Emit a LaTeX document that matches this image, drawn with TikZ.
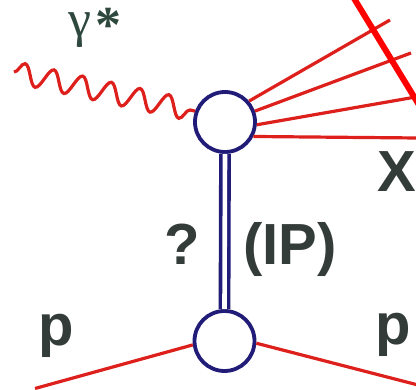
\documentclass[tikz,border=0pt]{standalone}
\usepackage{fontspec}
\setmainfont{Liberation Sans}
\newfontfamily\gfont{Liberation Serif}
\usetikzlibrary{decorations.pathmorphing}
\definecolor{fred}{RGB}{222,32,28}
\definecolor{navy}{RGB}{32,28,120}
\definecolor{inkc}{RGB}{52,60,58}
\definecolor{gink}{RGB}{46,72,62}
\begin{document}
\begin{tikzpicture}[x=1pt,y=-1pt,
  vertex/.style={circle,draw=navy,line width=3.8pt,minimum size=60pt,inner sep=0pt,fill=white},
  fline/.style={draw=fred,line width=3.2pt},
  lab/.style={text=inkc,font=\bfseries\fontsize{58}{58}\selectfont,inner sep=0pt}]
\fill[white] (0,0) rectangle (416,390);
\useasboundingbox (0,0) rectangle (416,390);
\clip (0,0) rectangle (416,390);
% vertices
\node[vertex] (top) at (225,122) {};
\node[vertex] (bot) at (224.5,341) {};
% exchanged object
\draw[navy,line width=3.6pt,double=white,double distance=4.6pt] (top.south) -- (bot.north);
% photon
\coordinate (g0) at (14,72);
\draw[fline,decorate,decoration={snake,segment length=29.4pt,amplitude=10.5pt}] (g0) -- (top.160);
% final state X
\coordinate (e1) at (390,20);
\coordinate (e2) at (411,53);
\coordinate (e3) at (418,96.6);
\coordinate (e4) at (418,138);
\draw[fline] (top.41) -- (e1);
\draw[fline] (top.20.6) -- (e2);
\draw[fline] (top.-5.4) -- (e3);
\draw[fline] (top.-27) -- (e4);
% protons
\coordinate (pin) at (35,388.5);
\coordinate (pout) at (418,385);
\draw[fline] (pin) -- (bot.187);
\draw[fline] (bot.-4) -- (pout);
% strike line
\coordinate (c1) at (348.9,-10);
\coordinate (c2) at (422.1,110);
\draw[red,line width=6pt] (c1) -- (c2);
% labels
\node[text=gink,font=\gfont\fontsize{52}{52}\selectfont,inner sep=0pt,anchor=base west] (gam) at (68,37) {γ\kern4pt\raisebox{-6pt}{\bfseries *}};
\node[lab] (q) at (182,244) {?};
\node[lab] (ip) at (290,250) {(IP)};
\node[lab] (pl) at (56,336) {p};
\node[lab] (pr) at (393,335) {p};
\node[lab] (x) at (397,172) {X};
\end{tikzpicture}
\end{document}
